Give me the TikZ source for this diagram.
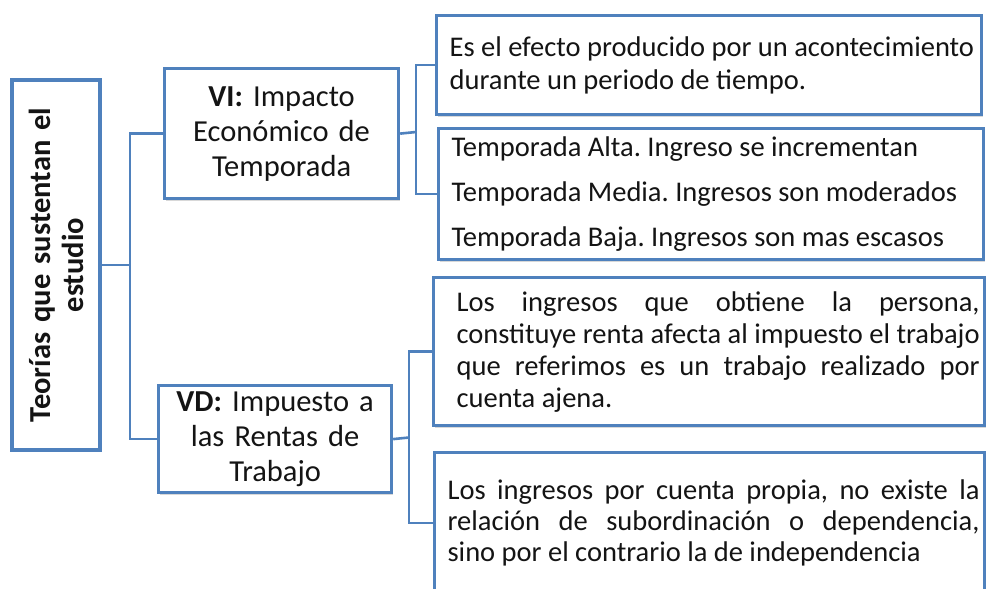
\documentclass[tikz,border=0pt]{standalone}
\usepackage{fontspec}
\setmainfont{Carlito}
\usetikzlibrary{shadows}
\definecolor{boxblue}{RGB}{79,129,189}
\definecolor{ink}{RGB}{20,20,20}
\newcommand{\jline}[1]{\makebox[\linewidth][s]{#1}}
\newcommand{\lline}[1]{\makebox[\linewidth][l]{#1}}
\newcommand{\txt}[5]{\hspace*{#1}\begin{minipage}{#2}\fontsize{28.5}{#4}\selectfont\frenchspacing #5\end{minipage}\hspace*{#3}}
\begin{document}
\begin{tikzpicture}[x=1pt,y=-1pt,
  box/.style={draw=boxblue, line width=3.2pt, fill=white, inner xsep=0pt, inner ysep=0pt,
    drop shadow={shadow xshift=1.5pt,shadow yshift=-2pt,opacity=0.3},
    font=\fontsize{28.5}{33}\selectfont, text=ink},
  link/.style={draw=boxblue, line width=2.6pt}]
\clip (0,0) rectangle (986,589);
\fill[white] (0,0) rectangle (986,589);
% root
\node[box, rotate=90, minimum width=370pt, minimum height=88pt, text width=370pt,
  align=center, font=\fontsize{30.5}{33}\selectfont\bfseries] (root) at (56,265)
  {Teorías que sustentan el\\ estudio};
% variables
\node[box, anchor=north west, minimum width=234pt, minimum height=130pt, text width=234pt,
  align=center, font=\fontsize{30.5}{35}\selectfont\frenchspacing] (vi) at (163,67)
  {\textbf{VI:} Impacto\\ Económico de\\ Temporada};
\node[box, anchor=north west, minimum width=233pt, minimum height=107pt, text width=233pt,
  align=center, font=\fontsize{30.5}{35}\selectfont\frenchspacing] (vd) at (157,384)
  {\textbf{VD:} Impuesto a\\ las Rentas de\\ Trabajo};
% descriptions
\node[box, anchor=north west, minimum width=545pt, minimum height=99pt] (d1) at (435,14)
  {\txt{13pt}{532pt}{0pt}{33}{Es el efecto producido por un acontecimiento\\ durante un periodo de tiempo.}};
\node[box, anchor=north west, minimum width=545pt, minimum height=131pt] (d2) at (437,127)
  {\txt{13pt}{532pt}{0pt}{45}{Temporada Alta. Ingreso se incrementan\\ Temporada Media. Ingresos son moderados\\ Temporada Baja. Ingresos son mas escasos}};
\node[box, anchor=north west, minimum width=551pt, minimum height=148pt] (d3) at (432,276)
  {\txt{23pt}{523pt}{5pt}{32}{\jline{Los ingresos que obtiene la persona,}\\ \jline{constituye renta afecta al impuesto el trabajo}\\ \jline{que referimos es un trabajo realizado por}\\ \lline{cuenta ajena.}}};
\node[box, anchor=north west, minimum width=550pt, minimum height=141pt] (d4) at (433,451)
  {\txt{13pt}{532pt}{5pt}{31}{\jline{Los ingresos por cuenta propia, no existe la}\\ \jline{relación de subordinación o dependencia,}\\ \lline{sino por el contrario la de independencia}}};
% junctions
\coordinate (j1) at (130,265);
\coordinate (j2) at (416,132);
\coordinate (j3) at (409,437.5);
% connectors
\draw[link] (root.south) -- (j1);
\draw[link] (vi.west) -| (j1) |- (vd.west);
\draw[link] (vi.east) -- (j2);
\draw[link] (d1.west) -| (j2) |- (d2.west);
\draw[link] (vd.east) -- (j3);
\draw[link] (d3.west) -| (j3) |- (d4.west);
\end{tikzpicture}
\end{document}
